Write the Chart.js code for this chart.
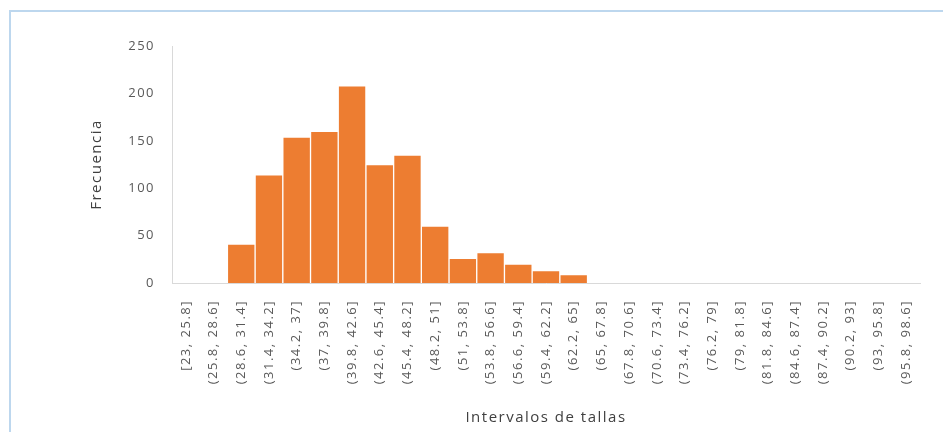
<!DOCTYPE html>
<html lang="es">
<head>
<meta charset="utf-8">
<title>Histograma de tallas</title>
<script src="https://cdn.jsdelivr.net/npm/chart.js@4.4.1/dist/chart.umd.min.js"></script>
<style>
  html, body { margin: 0; padding: 0; background: #ffffff; }
  #wrap { position: relative; width: 943px; height: 432px; overflow: hidden; }
  #frame {
    position: absolute; left: 9px; top: 10px; width: 960px; height: 440px;
    border-top: 2px solid #bdd7ee; border-left: 2px solid #bdd7ee;
  }
  #c { position: absolute; left: 0; top: 0; }
</style>
</head>
<body>
<div id="wrap">
  <div id="frame"></div>
  <canvas id="c" width="943" height="432"></canvas>
</div>
<script>
// Clases de talla (intervalos) y frecuencia observada en cada una
const intervals = [
  "[23, 25.8]", "(25.8, 28.6]", "(28.6, 31.4]", "(31.4, 34.2]", "(34.2, 37]",
  "(37, 39.8]", "(39.8, 42.6]", "(42.6, 45.4]", "(45.4, 48.2]", "(48.2, 51]",
  "(51, 53.8]", "(53.8, 56.6]", "(56.6, 59.4]", "(59.4, 62.2]", "(62.2, 65]",
  "(65, 67.8]", "(67.8, 70.6]", "(70.6, 73.4]", "(73.4, 76.2]", "(76.2, 79]",
  "(79, 81.8]", "(81.8, 84.6]", "(84.6, 87.4]", "(87.4, 90.2]", "(90.2, 93]",
  "(93, 95.8]", "(95.8, 98.6]"
];
const frequencies = [
  0, 0, 41, 114, 154, 160, 208, 125, 135, 60,
  26, 32, 20, 13, 9, 0, 0, 0, 0, 0,
  0, 0, 0, 0, 0, 0, 0
];
const yTicks = [0, 50, 100, 150, 200, 250];

const xTitle = "Intervalos de tallas";
const yTitle = "Frecuencia";

const FONT = "'Open Sans', 'DejaVu Sans', sans-serif";

// Slightly open letter spacing for every text drawn on the canvas
const spacingPlugin = {
  id: 'spacing',
  beforeDraw(chart) { chart.ctx.letterSpacing = '1.5px'; }
};

new Chart(document.getElementById('c'), {
  type: 'bar',
  data: {
    labels: intervals,
    datasets: [{
      data: frequencies,
      backgroundColor: '#ed7d31',
      borderColor: '#ffffff',
      borderWidth: { left: 1, right: 1, top: 1, bottom: 0 },
      borderSkipped: false,
      barPercentage: 1,
      categoryPercentage: 1
    }]
  },
  options: {
    responsive: false,
    animation: false,
    events: [],
    layout: { padding: { left: 0, top: 46, right: 23, bottom: 0 } },
    plugins: {
      legend: { display: false },
      tooltip: { enabled: false },
      title: { display: false }
    },
    scales: {
      x: {
        // tick marks are hidden with the grid; their length only spaces the labels
        grid: { display: false, drawTicks: true, tickLength: 17 },
        border: { display: true, color: '#d9d9d9', width: 1 },
        ticks: {
          autoSkip: false,
          minRotation: 90,
          maxRotation: 90,
          padding: 0,
          color: '#595959',
          font: { family: FONT, size: 13 }
        },
        title: {
          display: true,
          text: xTitle,
          color: '#404040',
          padding: { top: 0, bottom: 5 },
          font: { family: FONT, size: 15, lineHeight: 1.2 }
        },
        afterFit(scale) { scale.height = 149; }
      },
      y: {
        min: 0,
        max: 250,
        afterBuildTicks(scale) { scale.ticks = yTicks.map(v => ({ value: v })); },
        grid: { display: false, drawTicks: true, tickLength: 8 },
        border: { display: true, color: '#d9d9d9', width: 1 },
        ticks: {
          padding: 9,
          color: '#595959',
          font: { family: FONT, size: 13 }
        },
        title: {
          display: true,
          text: yTitle,
          color: '#404040',
          padding: { top: 88, bottom: 0 },
          font: { family: FONT, size: 15, lineHeight: 1.2 }
        },
        afterFit(scale) { scale.width = 172; }
      }
    }
  },
  plugins: [spacingPlugin]
});
</script>
</body>
</html>
